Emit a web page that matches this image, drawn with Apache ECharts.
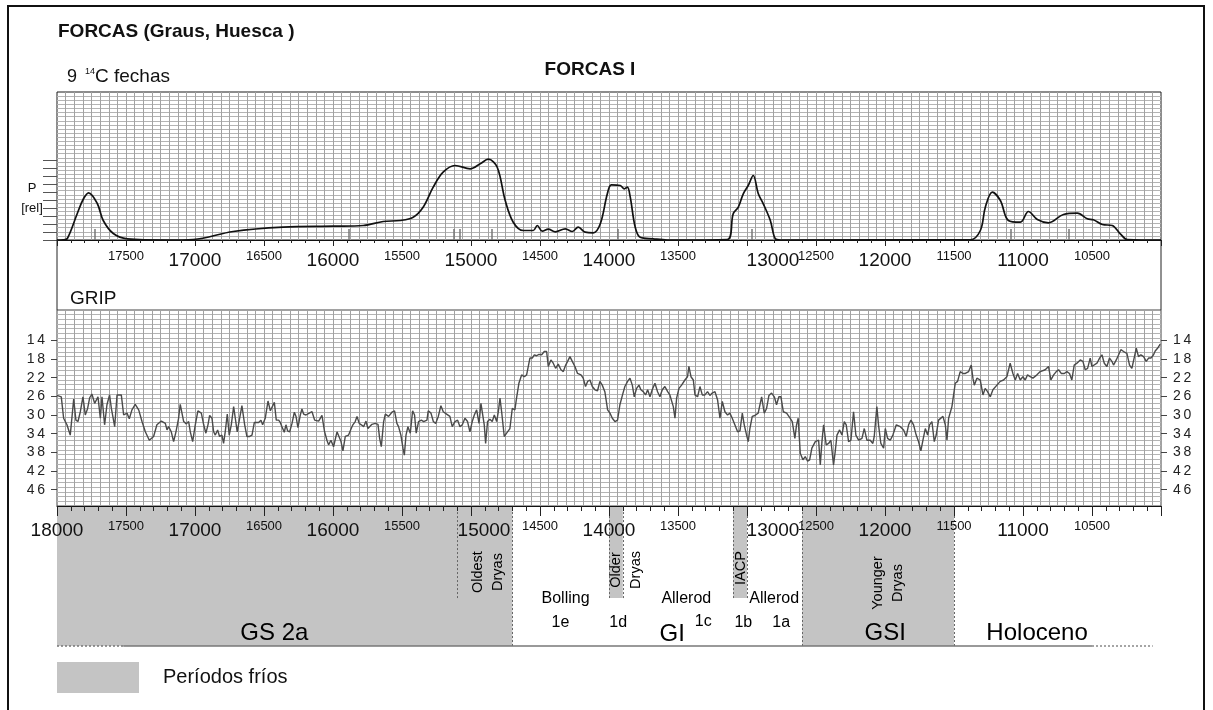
<!DOCTYPE html>
<html><head><meta charset="utf-8">
<script src="https://cdn.jsdelivr.net/npm/echarts@6/dist/echarts.min.js"></script>
<style>html,body{margin:0;padding:0;background:#fff}#c{width:1213px;height:710px}</style>
</head><body><div id="c"></div>
<script>
// ---------------- DATA ----------------
// Summed probability of the 9 calibrated 14C dates (FORCAS I), cal BP, relative units
const probYears = [18000,17954,17925,17853,17809,17771,17708,17665,17592,17491,17201,17013,16723,16361,15999,15781,15636,15513,15419,15347,15274,15202,15115,15006,14933,14875,14810,14752,14694,14621,14549,14520,14484,14440,14389,14317,14266,14223,14172,14114,14063,14012,13983,13918,13889,13867,13846,13810,13774,13680,13578,13143,13100,13063,13027,12991,12955,12918,12882,12831,12795,12759,11382,11309,11273,11222,11164,11106,11019,10961,10896,10816,10707,10606,10534,10490,10425,10353,10295,10244,10000];
const probValues = [0,0.2,1.5,26.5,41,47.2,36.5,19.5,6.5,1.2,0,0.5,8.5,12.8,13.8,14.5,18.5,19.5,22.8,32.8,52.8,67.8,74.5,71.2,76.2,80.8,72.8,39.5,17.8,9.5,9.5,14.5,8.8,10.8,8.2,11.2,8.5,12.8,7.8,7.2,16.2,46.2,55.2,54.5,51.2,52.8,42.8,12.8,2.8,1.2,0,0.5,26.2,32.8,46.2,54.5,64.5,46.2,36.2,19.5,1.2,0,0.2,9.5,32.8,47.8,39.5,19.5,17.8,28.5,20.5,17.2,25.5,26.8,21.2,20.2,15.5,14.5,6.2,0.5,0];
// Median ages of the 9 dates (small markers)
const dateMarkers = [17730,15889,15128,15085,14853,13940,12962,11092,10672];

// GRIP d18O record (per mil, shown as positive values, inverted axis)
const gripYears = [
18000,17969,17952,17928,17904,17879,17863,17848,17831,17812,17795,17778,17763,17747,17727,17703,17686,17674,17655,17638,
17619,17606,17582,17565,17534,17517,17493,17476,17457,17433,17408,17384,17360,17331,17300,17276,17244,17215,17203,17191,
17172,17155,17138,17119,17107,17082,17063,17046,17034,17017,16998,16979,16954,16937,16921,16906,16894,16877,16865,16853,
16836,16822,16805,16793,16781,16766,16752,16737,16720,16708,16694,16677,16660,16640,16624,16604,16587,16570,16556,16539,
16522,16510,16491,16471,16454,16442,16425,16411,16394,16382,16370,16353,16341,16329,16314,16297,16280,16268,16254,16237,
16225,16213,16196,16172,16152,16133,16104,16080,16061,16044,16032,16015,15996,15971,15959,15942,15928,15911,15887,15868,
15856,15839,15826,15810,15795,15778,15761,15747,15735,15718,15694,15674,15662,15650,15633,15621,15609,15597,15573,15554,
15537,15525,15508,15493,15483,15471,15457,15440,15423,15409,15397,15380,15360,15343,15319,
15310,15290,15273,15256,15237,15218,15201,15177,15153,15136,15116,15097,15080,15063,15044,15025,15008,14991,14976,14959,
14942,14928,14916,14904,14894,14880,14863,14846,14831,14814,14802,14790,14778,14759,14742,14718,14701,14682,14670,14653,
14633,14614,14597,14573,14556,14541,14525,14508,14488,14469,14452,14440,14421,14404,14387,14368,14348,14331,14314,14300,
14283,14266,14247,14228,14203,14187,14170,14155,14138,14121,14102,14083,14066,14049,14030,14010,13993,13976,13957,13938,
13921,13902,13885,13865,13848,13831,13817,13800,13783,13769,13752,13735,13720,13703,13687,13667,13648,13631,13614,13595,
13575,13559,13534,13522,13510,13493,13474,13450,13431,13421,13406,13389,13377,13358,13341,13324,13305,13286,13269,13252,
13232,13213,13196,13179,13160,13141,13124,13107,13088,13068,13051,13034,13020,13003,12991,12979,12962,12943,12919,12894,
12875,12858,12841,12822,12802,12786,12769,12754,12737,12713,12689,12672,12653,12641,12629,
12614,12595,12578,12561,12546,12530,12505,12481,12469,12457,12445,12426,12409,12392,12373,12361,12348,12329,12312,12295,
12281,12264,12247,12228,12211,12191,12167,12150,12131,12107,12088,12078,12059,12047,12030,12010,11998,11981,11962,11943,
11918,11889,11865,11846,11829,11812,11793,11774,11757,11740,11725,11708,11691,11677,11660,11643,11629,11612,11600,11580,
11563,11551,11539,11515,11491,11474,11455,11435,11418,11394,11375,11363,11353,11334,11310,11290,11274,11257,11237,11218,
11189,11165,11141,11117,11093,11073,11056,11039,11020,11001,10984,10967,10948,10928,10899,10875,10839,10815,10798,10778,
10759,10742,10723,10701,10682,10663,10646,10629,10609,10585,10566,10549,10532,10513,10501,10489,10464,10445,10428,10411,
10392,10373,10356,10344,10324,10307,10291,10271,10259,10247,10228,10211,10199,10179,10163,10146,10126,10107,10090,10073,
10054,10042,10025,10006];
const gripValues = [
25.8,26.1,30.7,32.1,34.3,26.6,31.1,31.4,29.3,26.1,30.0,28.6,26.3,25.5,27.5,26.1,30.7,26.1,32.1,27.8,
25.7,28.6,32.5,25.7,25.7,30.0,29.6,30.8,28.9,27.7,28.9,31.4,33.6,35.4,34.6,32.1,31.3,31.8,33.2,32.5,
33.6,35.7,33.6,30.7,27.7,31.4,31.9,31.4,33.6,35.7,32.1,29.1,29.6,32.1,33.9,32.1,30.1,30.7,33.6,34.3,
33.2,34.6,34.3,36.1,33.6,29.8,34.3,32.1,28.2,30.7,33.6,30.8,28.0,32.1,34.6,34.6,34.3,31.6,31.3,31.6,
31.1,32.1,30.7,27.0,29.1,29.3,27.3,31.1,31.1,31.6,32.5,33.7,32.1,33.4,33.6,31.8,29.4,30.3,32.7,30.0,
28.7,29.8,30.0,29.6,29.3,31.1,31.3,30.1,33.6,35.4,36.4,35.4,36.8,33.6,33.2,35.7,37.7,34.6,34.3,32.9,
32.1,31.4,30.3,31.8,32.1,32.5,31.3,32.9,33.0,32.0,31.8,32.0,35.0,36.8,31.4,29.8,29.6,30.3,29.4,29.1,
31.8,32.5,34.3,37.1,38.6,34.3,32.5,33.9,29.1,30.0,33.9,31.4,31.1,31.4,31.1,
29.1,29.6,31.4,31.8,30.3,28.0,29.3,29.8,30.3,32.5,31.4,31.1,32.5,32.1,30.7,31.4,33.6,31.4,30.0,28.9,
31.8,27.5,27.1,32.1,36.1,31.4,30.9,31.4,30.0,31.4,29.3,26.4,29.3,34.6,33.9,32.9,28.6,28.9,26.4,23.2,
21.4,21.8,21.4,17.8,17.8,17.1,17.3,17.0,17.1,16.4,16.4,19.6,18.2,18.9,20.0,19.1,20.3,20.7,19.3,18.5,
17.5,18.5,19.6,21.1,21.4,22.1,23.9,22.8,22.5,23.9,24.6,24.8,22.8,23.6,25.0,28.9,29.6,30.7,31.4,31.1,
27.8,25.7,23.9,22.8,22.1,23.6,26.1,24.3,23.6,24.6,25.0,25.7,24.6,26.1,24.6,23.2,25.0,26.1,24.6,23.9,
25.0,25.7,28.2,30.7,26.4,24.3,23.6,22.5,21.8,19.6,21.8,22.5,25.7,26.1,23.9,25.7,25.7,25.0,25.8,25.3,
25.0,26.8,30.7,27.1,29.3,30.0,29.6,30.7,32.1,33.6,33.4,29.6,32.1,34.3,35.7,32.9,30.3,30.1,29.6,26.1,
29.6,28.6,25.8,25.3,26.1,27.8,26.1,26.1,29.3,29.6,30.6,31.4,35.0,32.1,30.7,
38.2,39.6,38.9,39.9,39.6,37.1,35.7,35.4,40.7,35.7,32.1,36.4,36.1,35.4,40.7,37.9,34.3,33.2,34.3,31.4,
32.1,35.7,35.4,29.3,34.3,35.4,35.0,32.9,35.4,35.4,36.1,34.6,28.2,32.1,36.1,37.1,32.9,35.0,35.4,34.3,
32.1,32.5,33.2,34.6,32.1,31.1,32.1,34.3,35.7,37.7,35.4,32.9,34.3,32.1,31.4,35.7,34.3,31.1,30.7,30.3,
32.1,35.4,30.7,28.2,23.2,22.8,20.7,21.1,21.1,20.7,19.3,22.1,23.6,22.1,22.5,25.7,24.3,25.0,26.1,24.6,
23.6,22.8,22.5,21.8,18.9,21.1,22.5,21.1,22.5,21.8,22.5,21.4,21.8,22.1,21.4,20.7,20.3,19.6,22.5,21.4,
20.7,20.3,21.1,21.1,20.7,21.1,22.5,19.3,18.9,18.2,18.5,20.3,20.0,17.8,19.6,19.3,18.9,17.8,17.1,18.9,
19.6,17.8,18.5,19.3,18.2,17.1,16.0,16.4,16.0,16.8,19.3,20.0,20.3,15.7,17.5,17.1,17.5,18.5,17.8,17.8,
17.1,16.3,15.7,14.8];

// Tick labels
const gripTickLabels = [14,18,22,26,30,34,38,42,46];
const pTicks = [0,8,16,24,32,40,48,56,64,72,80];

// Cold periods (shaded) and boundaries (cal BP)
const coldPeriods = [
  {name:'GS 2a', from:18000, to:14700, full:true},
  {name:'Older Dryas', from:14000, to:13900, full:false},
  {name:'IACP', from:13100, to:13000, full:false},
  {name:'GSI', from:12600, to:11500, full:true}
];
const boundaries = [
  {year:15100, full:false},{year:14700, full:true},
  {year:14000, full:false},{year:13900, full:false},
  {year:13100, full:false},{year:13000, full:false},
  {year:12600, full:true},{year:11500, full:true}
];
const periodLabels = [
  {text:'GS 2a', year:16425, y:0.094, kind:'big'},
  {text:'Oldest\nDryas', year:14875, y:0.532, kind:'rot'},
  {text:'Bolling', year:14315, y:0.338, kind:'mid'},
  {text:'1e', year:14352, y:0.165, kind:'mid'},
  {text:'Older\nDryas', year:13878, y:0.547, kind:'rot'},
  {text:'1d', year:13933, y:0.165, kind:'mid'},
  {text:'Allerod', year:13440, y:0.338, kind:'mid'},
  {text:'GI', year:13542, y:0.086, kind:'big'},
  {text:'1c', year:13317, y:0.172, kind:'mid'},
  {text:'IACP', year:13042, y:0.561, kind:'rot'},
  {text:'1b', year:13027, y:0.165, kind:'mid'},
  {text:'Allerod', year:12803, y:0.338, kind:'mid'},
  {text:'1a', year:12752, y:0.165, kind:'mid'},
  {text:'Younger\nDryas', year:11980, y:0.453, kind:'rot'},
  {text:'GSI', year:11998, y:0.094, kind:'big'},
  {text:'Holoceno', year:10898, y:0.094, kind:'big'}
];

// ---------------- CHART ----------------
const F = '"Liberation Sans", Arial, Helvetica, sans-serif';
const X0 = 10000, X1 = 18000;
const SHORT = 0.345;
const BAND = '#c4c4c4';

const zip = (a, b) => a.map((v, i) => [v, b[i]]);

function richX() {
  const b = {fontSize:19, lineHeight:26, fontFamily:F, color:'#111'};
  return {
    b: b,
    s: {fontSize:13, lineHeight:16, fontFamily:F, color:'#111'},
    b13: Object.assign({}, b, {padding:[0,0,0,26]}),
    b26: Object.assign({}, b, {padding:[0,0,0,52]})
  };
}
function xFmt(hide, shift) {
  return function (v) {
    if (hide.indexOf(v) >= 0) return '';
    let k = (v % 1000 === 0) ? 'b' : 's';
    if (shift[v]) k = shift[v];
    return '{' + k + '|' + v + '}';
  };
}
function labelAxis(gi, margin, hide, shift, tickLen) {
  return {
    type:'value', gridIndex:gi, min:X0, max:X1, inverse:true, interval:500, position:'bottom', z:10,
    axisLine:{show:true, onZero:false, lineStyle:{color:'#111', width:1}},
    axisTick:{show:true, length:tickLen, lineStyle:{color:'#222', width:1}},
    minorTick:{show:true, splitNumber:5, length:Math.round(tickLen/2), lineStyle:{color:'#222', width:1}},
    axisLabel:{margin:margin, formatter:xFmt(hide, shift), rich:richX()},
    splitLine:{show:false}, minorSplitLine:{show:false}
  };
}
function gridXAxis(gi) {
  return {
    type:'value', gridIndex:gi, min:X0, max:X1, inverse:true, interval:62.5, position:'top',
    axisLine:{show:false}, axisTick:{show:false}, axisLabel:{show:false},
    splitLine:{show:true, showMinLine:false, showMaxLine:false, lineStyle:{color:'#a2a2a2', width:1}}
  };
}
function gridYAxis(gi, max) {
  return {
    type:'value', gridIndex:gi, min:0, max:max, interval:1, position:'right',
    axisLine:{show:false}, axisTick:{show:false}, axisLabel:{show:false},
    splitLine:{show:true, showMinLine:false, showMaxLine:false, lineStyle:{color:'#b4b4b4', width:1}}
  };
}
function gripAxis(pos) {
  return {
    type:'value', gridIndex:1, min:7.5, max:49.5, inverse:true, position:pos,
    axisLine:{show:false},
    axisTick:{show:true, customValues:gripTickLabels, length:6, lineStyle:{color:'#444'}},
    axisLabel:{customValues:gripTickLabels, margin:12, fontSize:14, fontFamily:F, color:'#222',
      formatter: v => String(v).split('').join('\u2009')},
    splitLine:{show:false}
  };
}

const option = {
  animation:false,
  backgroundColor:'#fff',
  grid:[
    {left:57, top:92, width:1104, height:148, show:true, borderColor:'#1a1a1a', borderWidth:1},
    {left:57, top:310, width:1104, height:196, show:true, borderColor:'#444', borderWidth:1},
    {left:57, top:507, width:1104, height:139, show:false}
  ],
  xAxis:[
    labelAxis(0, 8, [18000, 10000], {13000:'b26'}, 6),
    gridXAxis(0),
    labelAxis(1, 12, [10000], {15000:'b13', 13000:'b26'}, 10),
    gridXAxis(1),
    {type:'value', gridIndex:2, min:X0, max:X1, inverse:true, show:false}
  ],
  yAxis:[
    {type:'value', gridIndex:0, min:0, max:148, position:'left',
      axisLine:{show:false},
      axisTick:{show:true, customValues:pTicks, length:14, lineStyle:{color:'#555'}},
      axisLabel:{show:false}, splitLine:{show:false}},
    gridYAxis(0, 36),
    gripAxis('left'),
    gripAxis('right'),
    gridYAxis(1, 42),
    {type:'value', gridIndex:2, min:0, max:1, show:false}
  ],
  legend:{
    data:['Períodos fríos'], left:57, top:662, padding:0, icon:'rect', itemWidth:82, itemHeight:31,
    selectedMode:false,
    textStyle:{fontSize:20, fontFamily:F, color:'#111', padding:[6,0,0,19]}
  },
  series:[
    {
      name:'FORCAS I', type:'line', xAxisIndex:0, yAxisIndex:0, z:5,
      data: zip(probYears, probValues), smooth:0.35, symbol:'none',
      lineStyle:{color:'#111', width:1.7},
      markLine:{silent:true, symbol:['none','none'], label:{show:false},
        lineStyle:{color:'#777', width:1.5, type:'solid'},
        data: dateMarkers.map(y => [{coord:[y, 0]}, {coord:[y, 11]}])}
    },
    {
      name:'GRIP', type:'line', xAxisIndex:2, yAxisIndex:2, z:5,
      data: zip(gripYears, gripValues), symbol:'none',
      lineStyle:{color:'#4a4a4a', width:1.4}
    },
    {
      name:'Períodos fríos', type:'line', xAxisIndex:4, yAxisIndex:5, z:1,
      data:[], symbol:'none', itemStyle:{color:BAND}, lineStyle:{color:BAND},
      markArea:{silent:true, itemStyle:{color:BAND, opacity:1},
        data: coldPeriods.map(p => [{coord:[p.from, p.full ? 0 : SHORT]}, {coord:[p.to, 1]}])}
    },
    {
      name:'limits', type:'line', xAxisIndex:4, yAxisIndex:5, z:3,
      data:[], symbol:'none',
      markLine:{silent:true, symbol:['none','none'], label:{show:false},
        lineStyle:{color:'#666', width:1, type:[2,2]},
        data: boundaries.map(b => [{coord:[b.year, b.full ? 0 : SHORT]}, {coord:[b.year, 1]}]).concat([
          [{coord:[18000, 0], lineStyle:{color:'#777', width:1.5, type:[2,2]}}, {coord:[17520, 0]}],
          [{coord:[17520, 0], lineStyle:{color:'#777', width:1.5, type:'solid'}}, {coord:[10500, 0]}],
          [{coord:[10500, 0], lineStyle:{color:'#888', width:1.5, type:[2,2]}}, {coord:[10060, 0]}]
        ])}
    },
    {
      name:'labels', type:'scatter', xAxisIndex:4, yAxisIndex:5, z:6, silent:true,
      symbolSize:1, itemStyle:{color:'rgba(0,0,0,0)', opacity:1},
      data: periodLabels.map(l => ({
        value:[l.year, l.y],
        label:{show:true, position:'inside', formatter:l.text, color:'#000', opacity:1,
          textBorderWidth:0, fontFamily:F,
          fontSize: l.kind === 'big' ? 24 : (l.kind === 'rot' ? 14.5 : 16),
          lineHeight: l.kind === 'rot' ? 20 : undefined,
          rotate: l.kind === 'rot' ? 90 : 0, align:'center', verticalAlign:'middle'}
      }))
    }
  ],
  graphic:[
    {type:'rect', shape:{x:8, y:6, width:1196, height:712}, style:{fill:'none', stroke:'#111', lineWidth:2}, silent:true},
    {type:'line', shape:{x1:57, y1:240, x2:57, y2:310}, style:{stroke:'#222', lineWidth:1}},
    {type:'line', shape:{x1:1161, y1:240, x2:1161, y2:310}, style:{stroke:'#222', lineWidth:1}},
    {type:'text', x:58, y:32, style:{text:'FORCAS (Graus, Huesca )', fill:'#111', font:'bold 19px ' + F, verticalAlign:'middle'}},
    {type:'text', x:67, y:77, style:{text:'9', fill:'#111', font:'18px ' + F, verticalAlign:'middle'}},
    {type:'text', x:85, y:72, style:{text:'14', fill:'#111', font:'9px ' + F, verticalAlign:'middle'}},
    {type:'text', x:95, y:77, style:{text:'C fechas', fill:'#111', font:'19px ' + F, verticalAlign:'middle'}},
    {type:'text', x:590, y:70, style:{text:'FORCAS I', fill:'#111', font:'bold 19px ' + F, align:'center', verticalAlign:'middle'}},
    {type:'text', x:32, y:188, style:{text:'P', fill:'#111', font:'13px ' + F, align:'center', verticalAlign:'middle'}},
    {type:'text', x:32, y:208, style:{text:'[rel]', fill:'#111', font:'13px ' + F, align:'center', verticalAlign:'middle'}},
    {type:'text', x:70, y:299, style:{text:'GRIP', fill:'#111', font:'19px ' + F, verticalAlign:'middle'}}
  ]
};

const chart = echarts.init(document.getElementById('c'), null, {renderer:'canvas', width:1213, height:710});
chart.setOption(option);
</script>
</body></html>
